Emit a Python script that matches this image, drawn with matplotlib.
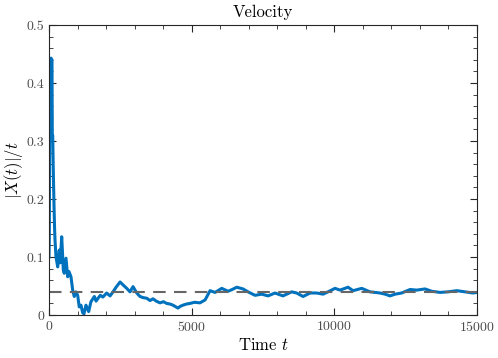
import matplotlib
matplotlib.use("Agg")
import matplotlib.pyplot as plt
from matplotlib.ticker import MultipleLocator

plt.rcParams['font.family'] = 'serif'
plt.rcParams['font.serif'] = ['cmr10']
plt.rcParams['mathtext.fontset'] = 'cm'
plt.rcParams['axes.formatter.use_mathtext'] = True

# values
time = [0, 10, 35, 70, 105, 115, 130, 150, 175, 195, 210, 245, 305, 360, 390,
        445, 480, 500, 535, 595, 655, 700, 770, 830, 885, 940, 1005, 1060, 1120,
        1180, 1225, 1295, 1390, 1470, 1590, 1650, 1720, 1800, 1890, 2020, 2140,
        2245, 2350, 2490, 2595, 2725, 2840, 2945, 3075, 3190, 3300, 3425, 3540,
        3645, 3760, 3890, 4010, 4125, 4240, 4345, 4520, 4600, 4695, 4820, 4940,
        5100, 5290, 5470, 5645, 5820, 6055, 6275, 6420, 6580, 6800, 6975, 7220,
        7455, 7675, 7920, 8200, 8505, 8680, 8905, 9150, 9385, 9605, 9780, 10025,
        10200, 10480, 10655, 10960, 11250, 11600, 11780, 11950, 12130, 12360,
        12655, 12890, 13180, 13415, 13705, 13985, 14290, 14580, 14860, 15000]
vel = [0.100, 0.130, 0.440, 0.443, 0.440, 0.310, 0.310, 0.250, 0.190, 0.150,
       0.130, 0.100, 0.083, 0.112, 0.090, 0.135, 0.100, 0.078, 0.072, 0.098,
       0.066, 0.075, 0.066, 0.043, 0.032, 0.040, 0.034, 0.014, 0.017, 0.004,
       0.002, 0.017, 0.006, 0.023, 0.032, 0.024, 0.029, 0.034, 0.031, 0.038,
       0.033, 0.040, 0.048, 0.057, 0.052, 0.046, 0.040, 0.049, 0.038, 0.032,
       0.030, 0.029, 0.025, 0.028, 0.024, 0.021, 0.023, 0.020, 0.019, 0.017,
       0.012, 0.015, 0.017, 0.019, 0.020, 0.022, 0.021, 0.026, 0.042, 0.039,
       0.046, 0.041, 0.044, 0.048, 0.045, 0.040, 0.034, 0.036, 0.033, 0.038,
       0.033, 0.040, 0.038, 0.032, 0.038, 0.038, 0.036, 0.040, 0.046, 0.043,
       0.048, 0.042, 0.046, 0.040, 0.038, 0.036, 0.033, 0.036, 0.038, 0.044,
       0.043, 0.045, 0.041, 0.039, 0.040, 0.042, 0.040, 0.038, 0.039]
v_mean = 0.039

fig = plt.figure(figsize=(4.98, 3.58), dpi=100)
ax = fig.add_axes([0.0984, 0.120, 0.8594, 0.810])

ax.plot(time, vel, color='#0072BD', lw=2.2)
ax.axhline(v_mean, color=(0.4, 0.4, 0.4), lw=1.5, ls=(0, (6, 4)))

ax.set_xlim(0, 15000)
ax.set_ylim(0, 0.5)
ax.set_xticks([0, 5000, 10000, 15000])
ax.set_yticks([0, 0.1, 0.2, 0.3, 0.4, 0.5])
ax.set_yticklabels(['0', '0.1', '0.2', '0.3', '0.4', '0.5'])
ax.xaxis.set_minor_locator(MultipleLocator(1000))
ax.yaxis.set_minor_locator(MultipleLocator(0.02))

gray = (0.15, 0.15, 0.15)
ax.tick_params(which='both', direction='in', top=True, right=True,
               colors=gray, labelsize=10, labelcolor=(0.3, 0.3, 0.3))
ax.tick_params(which='major', length=5, width=0.8)
ax.tick_params(which='minor', length=3, width=0.6)
for s in ax.spines.values():
    s.set_color(gray)
    s.set_linewidth(0.8)

ax.set_title('Velocity', fontsize=12, pad=6)
ax.set_xlabel('Time $t$', fontsize=12, labelpad=2)
ax.set_ylabel('$|X(t)|/t$', fontsize=12, labelpad=1)

fig.savefig('out.png', dpi=100)
